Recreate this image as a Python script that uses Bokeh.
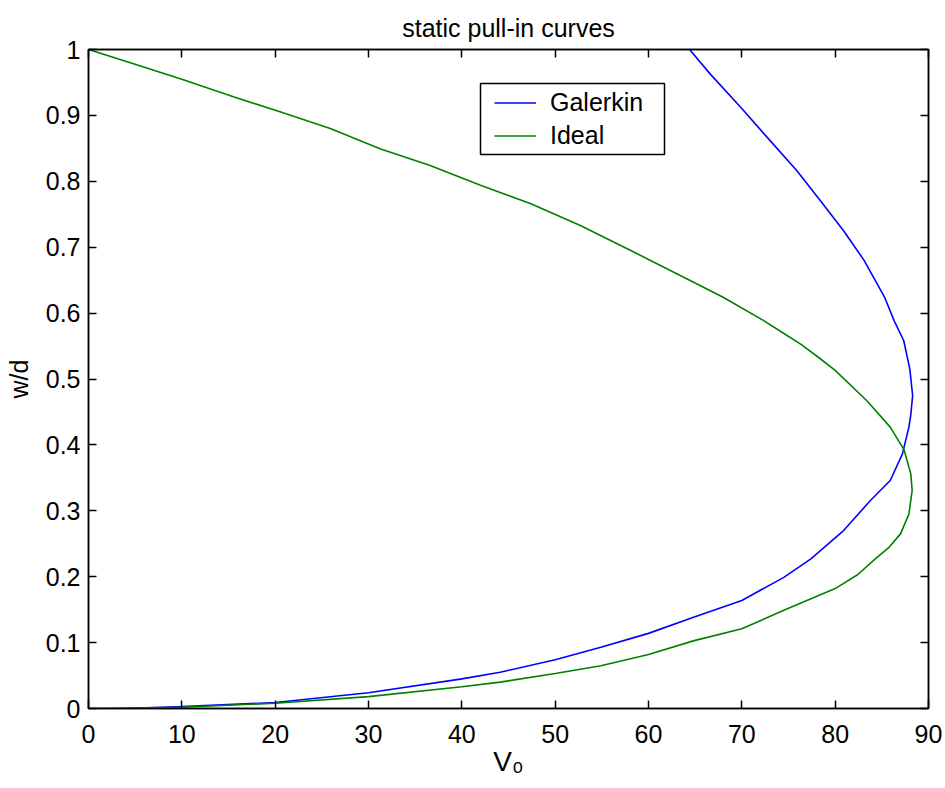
from bokeh.plotting import figure
from bokeh.models import (LinearAxis, Range1d, FixedTicker, Legend, LegendItem,
                          BoxAnnotation, ColumnDataSource)
from bokeh.embed import file_html
from bokeh.resources import INLINE

# ---- data ----
galerkin_v = [64.4, 66.6, 69.9, 72.7, 75.9, 78.4, 80.9, 83.1, 85.3, 86.3, 87.35, 88.0,
              88.3, 88.1, 87.9, 87.2, 85.9, 83.8, 80.9, 77.4, 74.5, 70.0, 64.9, 60.0, 54.9,
              50.0, 44.1, 40.0, 30.0, 20.0, 10.0, 4.1]
galerkin_w = [1.0, 0.963, 0.912, 0.867, 0.816, 0.771, 0.725, 0.680, 0.624, 0.589, 0.558, 0.515,
              0.475, 0.445, 0.427, 0.386, 0.346, 0.316, 0.270, 0.227, 0.199, 0.164, 0.139, 0.114, 0.093,
              0.074, 0.055, 0.045, 0.024, 0.009, 0.003, 0.0]

ideal_v = [0.0, 10.0, 20.0, 30.0, 40.0, 44.1, 50.0, 54.9, 60.0, 64.9, 70.0, 74.5, 80.0,
           82.4, 84.3, 85.8, 87.0, 87.9, 88.25, 88.1, 87.4, 85.9, 83.4, 80.0, 78.2, 76.3, 74.3,
           72.3, 68.0, 63.4, 58.1, 52.7, 47.4, 42.0, 36.6, 31.3, 25.9, 20.6, 15.6, 10.0, 4.9, 0.0]
ideal_w = [0.0, 0.002, 0.008, 0.018, 0.033, 0.040, 0.053, 0.065, 0.082, 0.103, 0.121, 0.149, 0.182,
           0.203, 0.227, 0.245, 0.265, 0.295, 0.331, 0.356, 0.392, 0.427, 0.467, 0.513, 0.533, 0.553, 0.571,
           0.589, 0.624, 0.657, 0.695, 0.733, 0.766, 0.794, 0.824, 0.849, 0.880, 0.905, 0.928, 0.955, 0.978, 1.0]

x_ticks = [0, 10, 20, 30, 40, 50, 60, 70, 80, 90]
x_tick_labels = ["0", "10", "20", "30", "40", "50", "60", "70", "80", "90"]
y_ticks = [0, 0.1, 0.2, 0.3, 0.4, 0.5, 0.6, 0.7, 0.8, 0.9, 1]
y_tick_labels = ["0", "0.1", "0.2", "0.3", "0.4", "0.5", "0.6", "0.7", "0.8", "0.9", "1"]

series_names = ["Galerkin", "Ideal"]
series_colors = ["#0000ff", "#008000"]

FONT = "Liberation Sans"
FS = "25px"

p = figure(width=945, height=788, output_backend="svg", toolbar_location=None,
           x_range=Range1d(0, 90), y_range=Range1d(0, 1),
           min_border_left=88, min_border_right=17, min_border_top=49, min_border_bottom=80,
           title="static pull-in curves")
p.title.align = "center"
p.title.vertical_align = "bottom"
p.title.text_font = FONT
p.title.text_font_size = FS
p.title.text_font_style = "normal"
p.title.text_color = "black"
p.title.text_line_height = 0.7
p.title.standoff = 16

p.xgrid.visible = False
p.ygrid.visible = False
p.outline_line_color = "black"
p.outline_line_width = 1.5
p.background_fill_color = "white"
p.border_fill_color = "white"

def style_axis(ax, ticks, labels, show_labels=True, standoff=8):
    ax.ticker = FixedTicker(ticks=ticks)
    if show_labels:
        ax.major_label_overrides = dict(zip(ticks, labels))
    else:
        ax.major_label_overrides = {t: "" for t in ticks}
    ax.major_label_text_font = FONT
    ax.major_label_text_font_size = FS
    ax.major_label_text_color = "black"
    ax.major_label_standoff = standoff
    ax.major_tick_in = 8
    ax.major_tick_out = 0
    ax.major_tick_line_color = "black"
    ax.major_tick_line_width = 1.5
    ax.minor_tick_line_color = None
    ax.axis_line_color = "black"
    ax.axis_line_width = 1.5

style_axis(p.xaxis[0], x_ticks, x_tick_labels, standoff=16)
p.xaxis[0].axis_label = "V\u2080"
p.xaxis[0].axis_label_text_font = FONT
p.xaxis[0].axis_label_text_font_size = "28px"
p.xaxis[0].axis_label_text_font_style = "normal"
p.xaxis[0].axis_label_text_color = "black"
p.xaxis[0].axis_label_standoff = 0

style_axis(p.yaxis[0], y_ticks, y_tick_labels)
p.yaxis[0].axis_label = "w/d"
p.yaxis[0].axis_label_text_font = FONT
p.yaxis[0].axis_label_text_font_size = FS
p.yaxis[0].axis_label_text_font_style = "normal"
p.yaxis[0].axis_label_text_color = "black"
p.yaxis[0].axis_label_standoff = 10

top_ax = LinearAxis()
style_axis(top_ax, x_ticks, x_tick_labels, show_labels=False, standoff=0)
top_ax.major_label_text_font_size = "0px"
p.add_layout(top_ax, "above")
right_ax = LinearAxis()
style_axis(right_ax, y_ticks, y_tick_labels, show_labels=False, standoff=0)
right_ax.major_label_text_font_size = "0px"
p.add_layout(right_ax, "right")

src_g = ColumnDataSource(dict(v=galerkin_v, w=galerkin_w))
src_i = ColumnDataSource(dict(v=ideal_v, w=ideal_w))
r_g = p.line("v", "w", source=src_g, line_color=series_colors[0], line_width=1.6)
r_i = p.line("v", "w", source=src_i, line_color=series_colors[1], line_width=1.6)

# legend frame
box = BoxAnnotation(left=392, right=576, bottom=554, top=625,
                    left_units="screen", right_units="screen",
                    top_units="screen", bottom_units="screen",
                    fill_color="white", fill_alpha=1.0,
                    line_color="black", line_width=1.5, line_alpha=1.0)
p.add_layout(box)

legend = Legend(items=[LegendItem(label=series_names[0], renderers=[r_g]),
                       LegendItem(label=series_names[1], renderers=[r_i])],
                location=(406, 556), padding=3, spacing=0, margin=0,
                glyph_width=42, glyph_height=33, label_height=33,
                label_standoff=14, label_text_font=FONT, label_text_font_size=FS,
                label_text_color="black", background_fill_alpha=0.0,
                border_line_color=None)
p.add_layout(legend)

open("out.html", "w").write(file_html(p, INLINE))
